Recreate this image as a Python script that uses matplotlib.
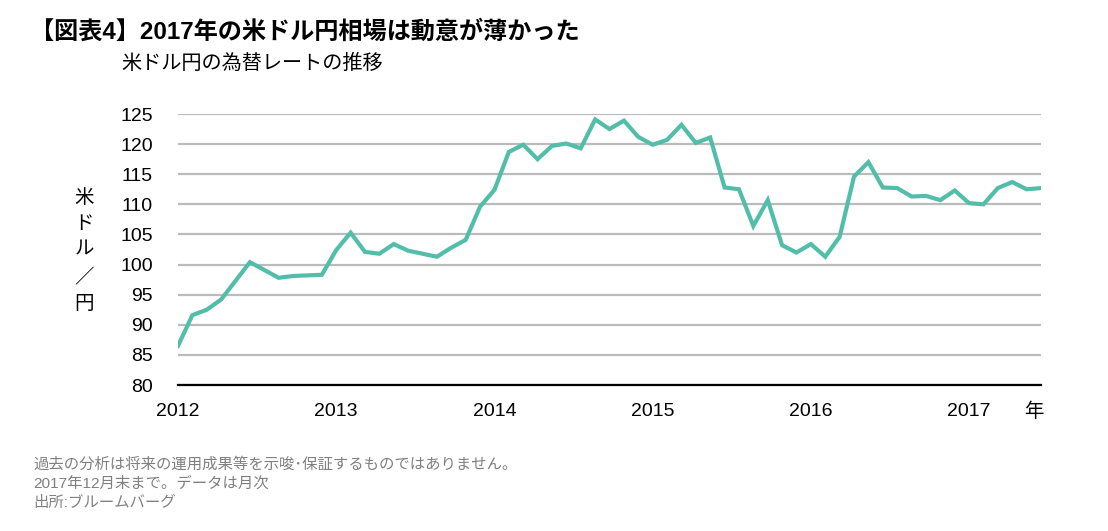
import matplotlib.pyplot as plt
import numpy as np

plt.rcParams['font.family'] = ['Liberation Sans', 'Noto Sans CJK JP']

# monthly USD/JPY, Dec 2012 .. Dec 2017
usdjpy = [86.5, 91.6, 92.5, 94.2, 97.3, 100.4, 99.1, 97.8, 98.1, 98.2, 98.3, 102.4, 105.3,
          102.1, 101.8, 103.4, 102.3, 101.8, 101.3, 102.8, 104.1, 109.6, 112.4, 118.7, 119.9,
          117.5, 119.7, 120.1, 119.3, 124.1, 122.5, 123.9, 121.2, 119.9, 120.7, 123.2, 120.2,
          121.1, 112.8, 112.5, 106.4, 110.7, 103.2, 102.0, 103.4, 101.3, 104.6, 114.6, 117.0,
          112.8, 112.7, 111.3, 111.4, 110.7, 112.3, 110.2, 110.0, 112.7, 113.7, 112.5, 112.7]
year_labels = ["2012", "2013", "2014", "2015", "2016", "2017"]
y_ticks = [80, 85, 90, 95, 100, 105, 110, 115, 120, 125]

title = "【図表4】2017年の米ドル円相場は動意が薄かった"
subtitle = "米ドル円の為替レートの推移"
notes = ["過去の分析は将来の運用成果等を示唆･保証するものではありません。",
         "2017年12月末まで。データは月次",
         "出所:ブルームバーグ"]

fig = plt.figure(figsize=(11.08, 5.31), dpi=100)
ax = fig.add_axes([178 / 1108, 146 / 531, (1041 - 178) / 1108, 271 / 531])

x = np.arange(len(usdjpy))
ax.plot(x, usdjpy, color="#52BEAA", linewidth=3, solid_joinstyle="miter", zorder=3)

ax.set_xlim(0, len(usdjpy) - 1)
ax.set_ylim(80, 125)
ax.set_yticks(y_ticks)
ax.set_yticklabels([str(v) for v in y_ticks], fontsize=14)
ax.grid(axis="y", color="#BBBBBB", linewidth=1.6)
ax.set_axisbelow(True)

# Excel-style category labels every 11 points, plus the unit at the end
xt = [i * 11 for i in range(len(year_labels))] + [59.5]
ax.set_xticks(xt)
ax.set_xticklabels(year_labels + ["年"], fontsize=14)

ax.tick_params(axis="y", length=0, pad=18)
ax.tick_params(axis="x", length=0, pad=13)
for s in ["top", "right", "left"]:
    ax.spines[s].set_visible(False)
ax.spines["bottom"].set_linewidth(1.6)
ax.spines["bottom"].set_zorder(4)

fig.text(84 / 1108, 1 - 251 / 531, "\n".join("米ドル／円"), fontsize=14,
         ha="center", va="center", linespacing=1.7)

fig.text(30 / 1108, 1 - 32 / 531, title, fontsize=17.4, fontweight="bold", ha="left", va="center")
fig.text(121 / 1108, 1 - 63 / 531, subtitle, fontsize=14.5, ha="left", va="center")

for i, line in enumerate(notes):
    fig.text(33 / 1108, 1 - (464 + i * 19.5) / 531, line, fontsize=11.1, color="#808080",
             ha="left", va="center")

fig.savefig("out.png", dpi=100)
